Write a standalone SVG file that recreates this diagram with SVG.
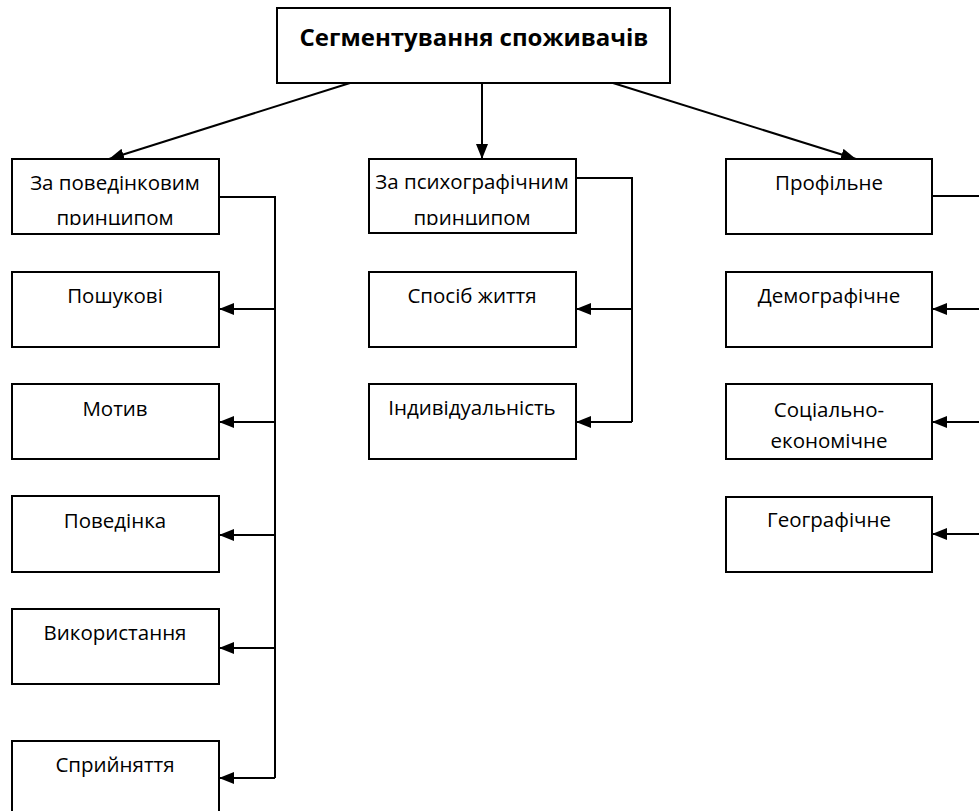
<svg xmlns="http://www.w3.org/2000/svg" width="979" height="811" viewBox="0 0 979 811">
<style>
.box{fill:#fff;stroke:#000;stroke-width:2}
.t{font-family:"Open Sans","Noto Sans","DejaVu Sans",sans-serif;font-size:20.5px;fill:#000;text-anchor:middle}
.title{font-family:"Open Sans","Noto Sans","DejaVu Sans",sans-serif;font-size:24px;font-weight:bold;fill:#000;text-anchor:middle}
.c{fill:none;stroke:#000;stroke-width:2}
</style>
<defs>
<marker id="ah" viewBox="0 0 15 12" refX="15" refY="6" markerWidth="15" markerHeight="12" markerUnits="userSpaceOnUse" orient="auto">
<path d="M0,0 L15,6 L0,12 z" fill="#000"/>
</marker>
<clipPath id="clipL"><rect x="12" y="159" width="207" height="66"/></clipPath>
<clipPath id="clipM"><rect x="369" y="159" width="207" height="66"/></clipPath>
</defs>
<g id="connectors">
<line class="c" x1="350" y1="83" x2="109" y2="159" marker-end="url(#ah)"/>
<line class="c" x1="482" y1="83" x2="482" y2="159" marker-end="url(#ah)"/>
<line class="c" x1="613" y1="83" x2="856" y2="159" marker-end="url(#ah)"/>
<polyline class="c" points="219,197 275,197 275,778"/>
<line class="c" x1="275" y1="309" x2="219" y2="309" marker-end="url(#ah)"/>
<line class="c" x1="275" y1="422" x2="219" y2="422" marker-end="url(#ah)"/>
<line class="c" x1="275" y1="535" x2="219" y2="535" marker-end="url(#ah)"/>
<line class="c" x1="275" y1="648" x2="219" y2="648" marker-end="url(#ah)"/>
<line class="c" x1="275" y1="778" x2="219" y2="778" marker-end="url(#ah)"/>
<polyline class="c" points="576,178 632,178 632,422"/>
<line class="c" x1="632" y1="309" x2="576" y2="309" marker-end="url(#ah)"/>
<line class="c" x1="632" y1="422" x2="576" y2="422" marker-end="url(#ah)"/>
<polyline class="c" points="932,196 990,196 990,540"/>
<line class="c" x1="990" y1="309" x2="932" y2="309" marker-end="url(#ah)"/>
<line class="c" x1="990" y1="422" x2="932" y2="422" marker-end="url(#ah)"/>
<line class="c" x1="990" y1="534" x2="932" y2="534" marker-end="url(#ah)"/>
</g>
<g id="root">
<rect class="box" x="277" y="8" width="393" height="75"/>
<text class="title" x="474" y="46">Сегментування споживачів</text>
</g>
<g id="behavioral">
<rect class="box" x="12" y="159" width="207" height="75"/>
<text class="t" x="115" y="190">За поведінковим</text>
<text class="t" x="115" y="225" clip-path="url(#clipL)">принципом</text>
</g>
<g id="search">
<rect class="box" x="12" y="272" width="207" height="75"/>
<text class="t" x="115" y="303">Пошукові</text>
</g>
<g id="motive">
<rect class="box" x="12" y="384" width="207" height="75"/>
<text class="t" x="115" y="416">Мотив</text>
</g>
<g id="behavior">
<rect class="box" x="12" y="496" width="207" height="76"/>
<text class="t" x="115" y="528">Поведінка</text>
</g>
<g id="usage">
<rect class="box" x="12" y="609" width="207" height="75"/>
<text class="t" x="115" y="640">Використання</text>
</g>
<g id="perception">
<rect class="box" x="12" y="741" width="207" height="75"/>
<text class="t" x="115" y="772">Сприйняття</text>
</g>
<g id="psychographic">
<rect class="box" x="369" y="159" width="207" height="74"/>
<text class="t" x="472" y="189">За психографічним</text>
<text class="t" x="472" y="225" clip-path="url(#clipM)">принципом</text>
</g>
<g id="lifestyle">
<rect class="box" x="369" y="272" width="207" height="75"/>
<text class="t" x="472" y="303">Спосіб життя</text>
</g>
<g id="individuality">
<rect class="box" x="369" y="384" width="207" height="75"/>
<text class="t" x="472" y="415">Індивідуальність</text>
</g>
<g id="profile">
<rect class="box" x="726" y="159" width="206" height="75"/>
<text class="t" x="829" y="190">Профільне</text>
</g>
<g id="demographic">
<rect class="box" x="726" y="272" width="206" height="75"/>
<text class="t" x="829" y="303">Демографічне</text>
</g>
<g id="socioeconomic">
<rect class="box" x="726" y="384" width="206" height="75"/>
<text class="t" x="829" y="417">Соціально-</text>
<text class="t" x="829" y="448">економічне</text>
</g>
<g id="geographic">
<rect class="box" x="726" y="497" width="206" height="75"/>
<text class="t" x="829" y="527">Географічне</text>
</g>
</svg>
